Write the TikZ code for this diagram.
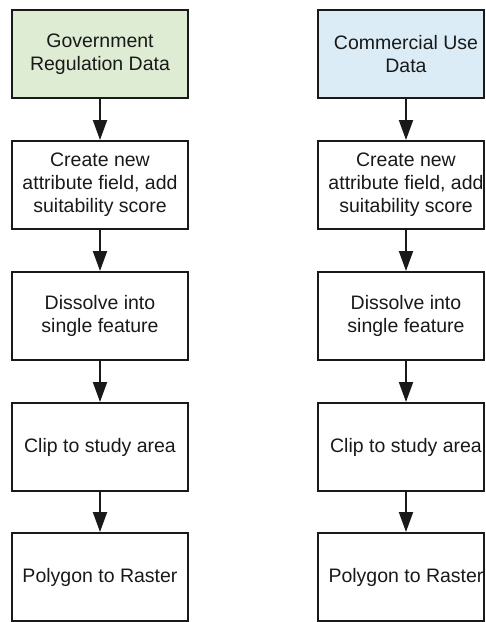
\documentclass[tikz,border=0pt]{standalone}
\usepackage{fontspec}
\setmainfont{Liberation Sans}
\usetikzlibrary{arrows.meta,backgrounds}
\definecolor{govgreen}{RGB}{222,236,212}
\definecolor{comblue}{RGB}{220,236,246}
\definecolor{ink}{RGB}{25,25,25}
\begin{document}
\begin{tikzpicture}[x=1pt,y=-1pt,
  stepbox/.style={draw=ink, line width=2pt, minimum width=176pt, minimum height=88pt, align=center,
    font=\fontsize{19.5}{22.8}\selectfont, text=ink, inner sep=0pt},
  ghostbox/.style={stepbox, draw=none},
  flow/.style={draw=ink, line width=2pt, -{Triangle[length=20pt,width=14pt]}},
  edgeline/.style={draw=ink, line width=2pt}]
\useasboundingbox (0,0) rectangle (486,622);
% left column
\node[stepbox, fill=govgreen] (g1) at (100,54) {Government\\Regulation Data};
\node[stepbox] (g2) at (100,185) {Create new\\attribute field, add\\suitability score};
\node[stepbox] (g3) at (100,316) {Dissolve into\\single feature};
\node[stepbox] (g4) at (100,447) {Clip to study area};
\node[stepbox] (g5) at (100,577) {Polygon to Raster};
% right column
\node[ghostbox] (c1) at (406,54) {Commercial Use\\Data};
\node[ghostbox] (c2) at (406,185) {Create new\\attribute field, add\\suitability score};
\node[ghostbox] (c3) at (406,316) {Dissolve into\\single feature};
\node[ghostbox] (c4) at (406,447) {Clip to study area};
\node[ghostbox] (c5) at (406,577) {Polygon to Raster};
\begin{scope}[on background layer]
\draw[edgeline, fill=comblue] ([xshift=1pt,yshift=-1pt]c1.north west) rectangle ([xshift=-11pt,yshift=1pt]c1.south east);
\foreach \n in {c2,c3,c4,c5}
  \draw[edgeline, fill=white] ([xshift=1pt,yshift=-1pt]\n.north west) rectangle ([xshift=-11pt,yshift=1pt]\n.south east);
\end{scope}
% connectors
\draw[flow] (g1) -- (g2);
\draw[flow] (g2) -- (g3);
\draw[flow] (g3) -- (g4);
\draw[flow] (g4) -- (g5);
\draw[flow] (c1) -- (c2);
\draw[flow] (c2) -- (c3);
\draw[flow] (c3) -- (c4);
\draw[flow] (c4) -- (c5);
\end{tikzpicture}
\end{document}
